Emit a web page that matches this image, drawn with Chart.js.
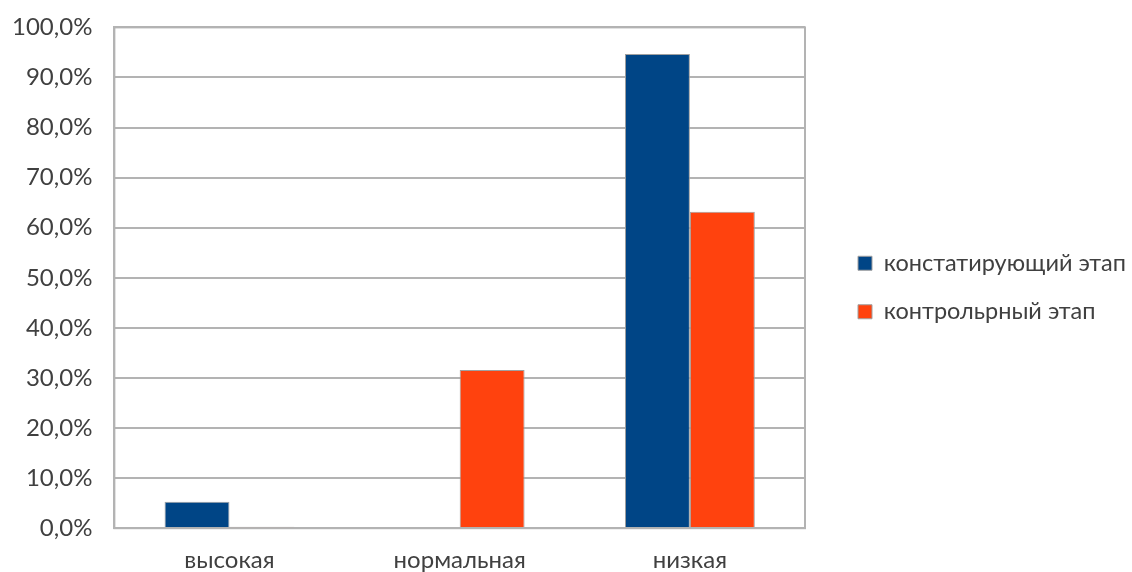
<!DOCTYPE html>
<html><head><meta charset="utf-8">
<script src="https://cdn.jsdelivr.net/npm/chart.js@4/dist/chart.umd.min.js"></script>
<style>html,body{margin:0;padding:0;background:#fff;overflow:hidden}#wrap{width:1132px;height:594px;margin-top:-9px}</style>
</head><body><div id="wrap"><canvas id="c" width="1132" height="594"></canvas></div>
<script>
const categories = ['высокая', 'нормальная', 'низкая'];
const seriesNames = ['констатирующий этап', 'контрольрный этап'];
const stage1 = [5.3, 0, 94.7];
const stage2 = [0.3, 31.6, 63.2];
const yTicks = [0, 10, 20, 30, 40, 50, 60, 70, 80, 90, 100];

const frame = {
  id: 'frame',
  afterDatasetsDraw(chart) {
    const a = chart.chartArea, ctx = chart.ctx;
    ctx.save();
    ctx.strokeStyle = '#b3b3b3';
    ctx.lineWidth = 2;
    ctx.strokeRect(a.left, a.top, a.right - a.left, a.bottom - a.top);
    ctx.restore();
  }
};

// legend box: reserve a fixed width on the right and place it like the reference
const LEGEND_W = 327;
const legendPlace = {
  id: 'legendPlace',
  beforeLayout(chart) {
    const lg = chart.legend;
    if (lg && !lg._patched) {
      const orig = lg.fit;
      lg.fit = function () { orig.call(this); this.width = LEGEND_W; };
      lg._patched = true;
    }
  },
  afterLayout(chart) {
    const lg = chart.legend;
    lg.left += 28; lg.right += 28;
    lg.top -= 2; lg.bottom -= 2;
  }
};

const FONT = { family: 'Lato', size: 24 };
const TXT = '#404040';

new Chart(document.getElementById('c'), {
  type: 'bar',
  data: {
    labels: categories,
    datasets: [
      { label: seriesNames[0], data: stage1, backgroundColor: '#004586', borderColor: '#a0a0a0', borderWidth: 1, barPercentage: 1, categoryPercentage: 0.564 },
      { label: seriesNames[1], data: stage2, backgroundColor: '#ff420e', borderColor: '#a0a0a0', borderWidth: 1, barPercentage: 1, categoryPercentage: 0.564 }
    ]
  },
  options: {
    responsive: false,
    animation: false,
    layout: { padding: { top: 3, left: -10, right: 0, bottom: 0 } },
    plugins: {
      legend: {
        position: 'right',
        labels: { font: { family: 'Lato', size: 23.5 }, color: TXT, boxWidth: 14, boxHeight: 14, padding: 25 }
      },
      tooltip: { enabled: false }
    },
    scales: {
      x: {
        grid: { display: false },
        border: { color: '#b3b3b3', width: 2 },
        ticks: { font: FONT, color: TXT, padding: 10 }
      },
      y: {
        min: 0, max: 100,
        afterBuildTicks(axis) { axis.ticks = yTicks.map(v => ({ value: v })); },
        grid: { color: '#b3b3b3', lineWidth: 2, drawTicks: false },
        border: { color: '#b3b3b3', width: 2 },
        ticks: { font: FONT, color: TXT, padding: 22,
          callback: v => v.toFixed(1).replace('.', ',') + '%' }
      }
    }
  },
  plugins: [legendPlace, frame]
});
</script></body></html>
